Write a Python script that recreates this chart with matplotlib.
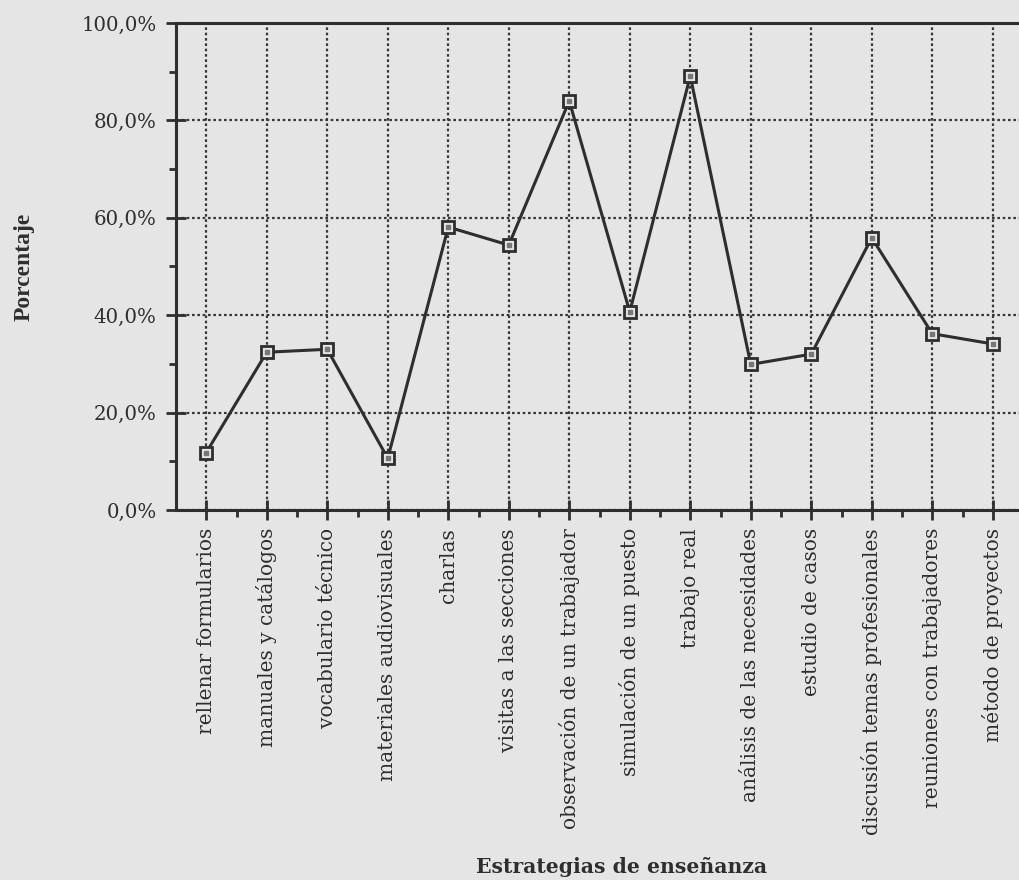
import matplotlib
matplotlib.use("Agg")
import matplotlib.pyplot as plt
from matplotlib.ticker import FixedLocator, FuncFormatter, MultipleLocator

# Estrategias de enseñanza y porcentaje de uso
categorias = [
    "rellenar formularios",
    "manuales y catálogos",
    "vocabulario técnico",
    "materiales audiovisuales",
    "charlas",
    "visitas a las secciones",
    "observación de un trabajador",
    "simulación de un puesto",
    "trabajo real",
    "análisis de las necesidades",
    "estudio de casos",
    "discusión temas profesionales",
    "reuniones con trabajadores",
    "método de proyectos",
]
porcentajes = [11.8, 32.4, 33.0, 10.6, 58.1, 54.4, 84.0, 40.7, 89.1, 29.9, 32.0, 55.9, 36.2, 34.1]
ticks_y = [0, 20, 40, 60, 80, 100]

BG = "#e5e5e5"
INK = "#2e2e2e"
TICKFONT = ["DejaVu Serif"]

fig = plt.figure(figsize=(10.19, 8.8), dpi=100, facecolor=BG)
ax = fig.add_axes([176 / 1019, 370 / 880, 847 / 1019, 487 / 880], facecolor=BG)

x = list(range(len(categorias)))
ax.plot(x, porcentajes, color=INK, lw=2.2, zorder=3)
ax.plot(x, porcentajes, ls="none", marker="s", ms=8.5, mfc=BG, mec=INK, mew=2.0, zorder=4)
ax.plot(x, porcentajes, ls="none", marker="s", ms=2.2, mfc="#777777", mec="#777777", zorder=5)

ax.set_xlim(-0.5, len(categorias) - 0.5)
ax.set_ylim(0, 100)

ax.xaxis.set_major_locator(FixedLocator(x))
ax.set_xticklabels(categorias, rotation=90, fontsize=14.5, family=TICKFONT, color=INK)
ax.xaxis.set_minor_locator(FixedLocator([i + 0.5 for i in x]))
ax.yaxis.set_major_locator(FixedLocator(ticks_y))
ax.yaxis.set_minor_locator(MultipleLocator(10))
ax.yaxis.set_major_formatter(FuncFormatter(lambda v, p: f"{v:.1f}%".replace(".", ",")))
for lab in ax.get_yticklabels():
    lab.set_fontsize(14.2)
    lab.set_family(TICKFONT)
    lab.set_color(INK)

ax.tick_params(axis="both", which="major", direction="inout", length=14, width=2, color=INK)
ax.tick_params(axis="x", which="major", pad=6)
ax.tick_params(axis="y", which="major", pad=7)
ax.tick_params(axis="both", which="minor", direction="out", length=5, width=2, color=INK)

ax.grid(True, which="major", ls=(0, (1.2, 1.2)), lw=1.6, color="#3a3a3a", zorder=1)

for s in ax.spines.values():
    s.set_color(INK)
    s.set_linewidth(2.2)

ax.set_ylabel("Porcentaje", fontsize=17, fontweight="bold", family=["Liberation Serif"], color=INK)
ax.yaxis.set_label_coords((35 - 176) / 847, 0.5)
fig.text(622 / 1019, 1 - 867 / 880, "Estrategias de enseñanza", ha="center", va="center",
         fontsize=14.7, fontweight="bold", family=["DejaVu Serif"], color=INK)

fig.savefig("out.png", dpi=100, facecolor=BG)
